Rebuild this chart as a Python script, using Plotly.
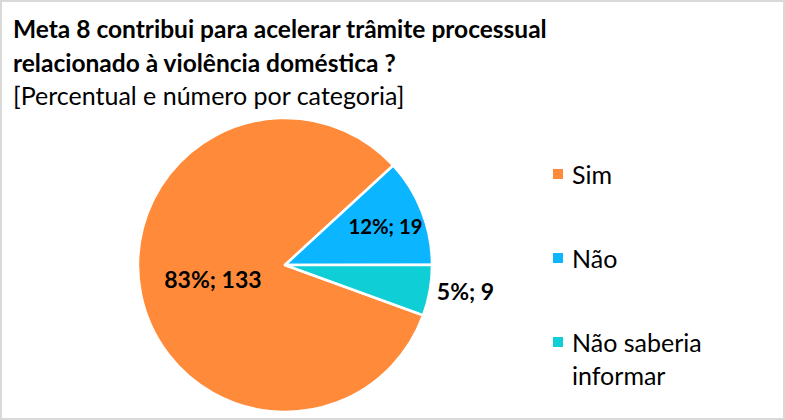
import plotly.graph_objects as go

labels = ["Sim", "Não", "Não saberia informar"]
legend_text = ["Sim", "Não", "Não saberia<br>informar"]
values = [133, 19, 9]
percents = [83, 12, 5]
colors = ["#FF8B3A", "#0BB5FF", "#10CED6"]

title_lines = ["Meta 8 contribui para acelerar trâmite processual",
               "relacionado à violência doméstica ?"]
subtitle = "[Percentual e número por categoria]"

FONT = "Lato"
W, H = 785, 420

fig = go.Figure()
fig.add_trace(go.Pie(
    labels=labels, values=values, customdata=percents,
    texttemplate="<b>%{customdata}%; %{value}</b>",
    textposition=["inside", "inside", "outside"],
    insidetextorientation="horizontal",
    textfont=dict(family=FONT, size=23, color="black"),
    outsidetextfont=dict(family=FONT, size=23, color="black"),
    marker=dict(colors=colors, line=dict(color="white", width=2.5)),
    sort=False, direction="clockwise", rotation=110,
    domain=dict(x=[138 / W, 432 / W], y=[1 - 412 / H, 1 - 118 / H]),
    showlegend=False, hoverinfo="label+value+percent",
))

annotations = []
for i, line in enumerate(title_lines):
    annotations.append(dict(text="<b>" + line + "</b>", x=11 / W, y=1 - (29 + 33 * i) / H,
                            xref="paper", yref="paper", xanchor="left", yanchor="middle",
                            showarrow=False, font=dict(family=FONT, size=24.5, color="black")))
annotations.append(dict(text=subtitle, x=11 / W, y=1 - 95 / H, xref="paper", yref="paper",
                        xanchor="left", yanchor="middle", showarrow=False,
                        font=dict(family=FONT, size=25, color="black")))

shapes = [dict(type="rect", xref="paper", yref="paper", x0=1 / W, x1=1 - 1 / W,
               y0=1 / H, y1=1 - 1 / H, line=dict(color="#D9D9D9", width=2))]

legend_y = [174, 258, 342]
for txt, col, yy in zip(legend_text, colors, legend_y):
    shapes.append(dict(type="rect", xref="paper", yref="paper",
                       x0=553 / W, x1=563 / W, y0=1 - (yy + 5) / H, y1=1 - (yy - 5) / H,
                       fillcolor=col, line=dict(width=0)))
    annotations.append(dict(text=txt, x=570 / W, y=1 - (yy - 17) / H, xref="paper", yref="paper",
                            xanchor="left", yanchor="top", align="left", showarrow=False,
                            font=dict(family=FONT, size=25, color="black")))

fig.update_layout(
    width=W, height=H, margin=dict(l=0, r=0, t=0, b=0),
    paper_bgcolor="white", plot_bgcolor="white",
    annotations=annotations, shapes=shapes,
)
fig.write_html("out.html", config={"displayModeBar": False},
               post_script="document.body.style.margin='0';")
